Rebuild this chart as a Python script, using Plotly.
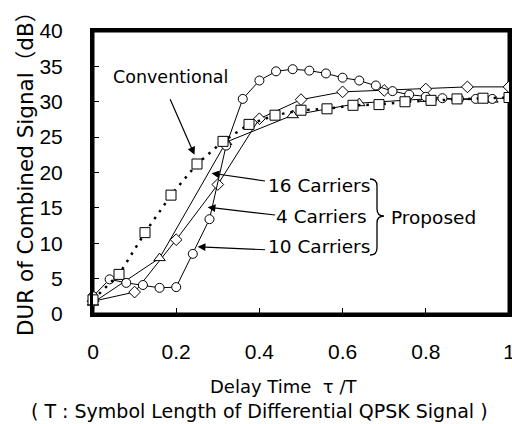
import plotly.graph_objects as go

# ---- data ----
conv_x = [0, 0.0625, 0.125, 0.1875, 0.25, 0.3125, 0.375, 0.4375, 0.5, 0.5625, 0.625, 0.6875, 0.75, 0.8125, 0.875, 0.9375, 1.0]
conv_y = [2.0, 5.6, 11.5, 16.8, 21.2, 24.4, 26.8, 28.1, 28.8, 29.0, 29.5, 29.6, 30.0, 30.2, 30.4, 30.5, 30.6]

c16_x = [0, 0.16, 0.32, 0.48, 0.64, 0.80, 0.96]
c16_y = [1.6, 7.9, 24.3, 28.1, 29.8, 30.4, 30.3]

c4_x = [0, 0.1, 0.2, 0.3, 0.4, 0.5, 0.6, 0.7, 0.8, 0.9, 1.0]
c4_y = [1.8, 3.1, 10.5, 18.3, 27.6, 30.3, 31.4, 31.6, 31.8, 32.1, 32.1]

c10_x = [0, 0.04, 0.08, 0.12, 0.16, 0.20, 0.24, 0.28, 0.32, 0.36, 0.40, 0.44, 0.48, 0.52,
         0.56, 0.60, 0.64, 0.68, 0.72, 0.76, 0.80, 0.84, 0.88, 0.92, 0.96, 1.0]
c10_y = [2.5, 4.9, 4.4, 4.1, 3.7, 3.8, 8.5, 13.4, 23.8, 30.4, 33.0, 34.3, 34.6, 34.4,
         34.0, 33.4, 33.0, 32.3, 31.5, 31.0, 30.7, 30.5, 30.4, 30.4, 30.4, 30.5]

x_ticks = [0, 0.2, 0.4, 0.6, 0.8, 1]
x_ticklabels = ["0", "0.2", "0.4", "0.6", "0.8", "1"]
y_ticks = [0, 5, 10, 15, 20, 25, 30, 35, 40]

TICKFONT = "Liberation Sans, Arial"
FONT = "DejaVu Sans, Noto Sans CJK JP"

W, H = 512, 424
# plot area in page pixels
L, R, T, B = 93, 509, 31, 314

def px(x):
    return (x - L) / (R - L)
def py(y):
    return (B - y) / (B - T)

fig = go.Figure()

def mk(sym, size):
    return dict(symbol=sym, size=size, color="white", line=dict(color="black", width=1))

fig.add_trace(go.Scatter(x=c4_x, y=c4_y, mode="lines+markers", line=dict(color="black", width=1),
                         marker=mk("diamond", 9), cliponaxis=False, showlegend=False))
fig.add_trace(go.Scatter(x=c16_x, y=c16_y, mode="lines+markers", line=dict(color="black", width=1),
                         marker=mk("triangle-up", 10), cliponaxis=False, showlegend=False))
fig.add_trace(go.Scatter(x=c10_x, y=c10_y, mode="lines+markers", line=dict(color="black", width=1),
                         marker=mk("circle", 9), cliponaxis=False, showlegend=False))
fig.add_trace(go.Scatter(x=conv_x, y=conv_y, mode="lines+markers",
                         line=dict(color="black", width=2.5, dash="2.5px,6px"),
                         marker=mk("square", 10), cliponaxis=False, showlegend=False))

ann = []
# arrows
def arrow(x, y, ax, ay):
    ann.append(dict(x=x, y=y, xref="x", yref="y", ax=ax, ay=ay, text="", showarrow=True,
                    arrowhead=2, arrowsize=1.3, arrowwidth=1.2, arrowcolor="black", standoff=0))
arrow(0.244, 22.5, -25, -57)
arrow(0.285, 19.9, 55, 8)
arrow(0.2755, 15.1, 69, 8)
arrow(0.2515, 9.5, 69, 3)

def text(t, x, y, anchor="center", size=18, angle=0):
    ann.append(dict(text=t, x=px(x), y=py(y), xref="paper", yref="paper", showarrow=False,
                    xanchor=anchor, yanchor="middle", textangle=angle,
                    font=dict(family=FONT, size=size, color="black")))
text("Conventional", 170, 77, "center", 17.5)
text("16 Carriers", 372, 185, "right", 18.5)
text("4 Carriers", 369, 216, "right", 18.5)
text("10 Carriers", 372, 246, "right", 18.5)
text("Proposed", 389, 217, "left", 18.5)
text("Delay Time  τ /T", 283, 386, "center", 18)
text("( T : Symbol Length of Differential QPSK Signal )", 259, 411, "center", 19)
text("DUR of Combined Signal（dB）", 25, 169, "center", 21.5, -90)

# brace
pts = [(370, 179), (377, 179), (377, 186), (377, 209), (377, 216), (384, 216), (377, 216), (377, 223),
       (377, 248), (377, 255), (370, 255)]
P = [(px(a), py(b)) for a, b in pts]
path = ("M {0[0]},{0[1]} Q {1[0]},{1[1]} {2[0]},{2[1]} L {3[0]},{3[1]} Q {4[0]},{4[1]} {5[0]},{5[1]} "
        "Q {6[0]},{6[1]} {7[0]},{7[1]} L {8[0]},{8[1]} Q {9[0]},{9[1]} {10[0]},{10[1]}").format(*P)
fig.add_shape(type="path", path=path, xref="paper", yref="paper", line=dict(color="black", width=1.3))
# frame
fig.add_shape(type="rect", x0=0, x1=1, y0=0, y1=1, xref="paper", yref="paper",
              line=dict(color="black", width=3), layer="below")

fig.update_layout(
    width=W, height=H,
    margin=dict(l=L, r=W - R, t=T, b=H - B, autoexpand=False),
    paper_bgcolor="white", plot_bgcolor="white",
    annotations=ann,
    font=dict(family=FONT, color="black"),
)
fig.update_xaxes(range=[0, 1], tickvals=x_ticks, ticktext=x_ticklabels, ticks="inside", ticklen=6,
                 tickwidth=1, tickcolor="black", showline=True, linewidth=3, linecolor="black",
                 mirror=True, showgrid=False, zeroline=False, tickfont=dict(size=21, family=TICKFONT),
                 ticklabelstandoff=17, ticklabeloverflow="allow", automargin=False)
fig.update_yaxes(range=[0, 40], tickvals=y_ticks, ticks="inside", ticklen=6, tickwidth=1,
                 tickcolor="black", showline=True, linewidth=3, linecolor="black", mirror=True,
                 showgrid=False, zeroline=False, tickfont=dict(size=21, family=TICKFONT),
                 ticklabelstandoff=23, ticklabeloverflow="allow", automargin=False)

fig.write_html("out.html", config={"displayModeBar": False},
               post_script=("document.documentElement.style.overflow='hidden';"
                            "document.body.style.margin='0';document.body.style.overflow='hidden';"))
